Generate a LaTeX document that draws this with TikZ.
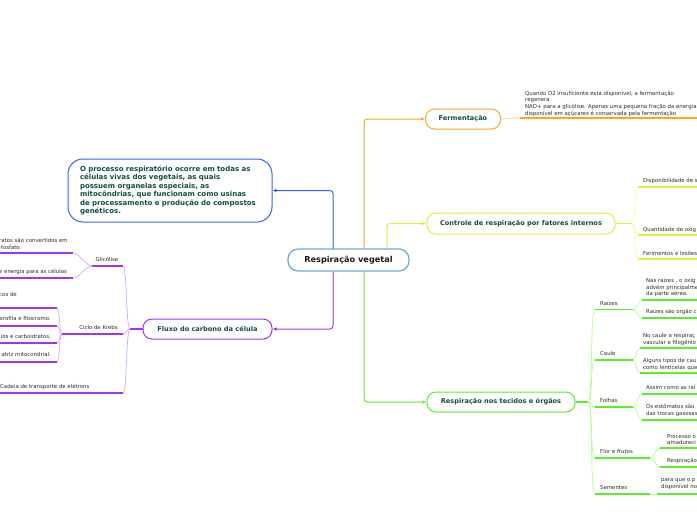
\documentclass[tikz,border=0pt]{standalone}
\usepackage{fontspec}
\setmainfont{DejaVu Sans}
\usetikzlibrary{arrows.meta}
\definecolor{cblue}{HTML}{3366EE}
\definecolor{cpurple}{HTML}{A035F0}
\definecolor{cpurpleL}{HTML}{D8A6FF}
\definecolor{corange}{HTML}{FFA526}
\definecolor{corangeL}{HTML}{FFD9A0}
\definecolor{cyellow}{HTML}{DDF23A}
\definecolor{cyellowL}{HTML}{EEFF99}
\definecolor{cgreen}{HTML}{5CEE2A}
\definecolor{cgreenL}{HTML}{AEFF90}
\definecolor{croot}{HTML}{6AA8DA}
\definecolor{ctxt}{HTML}{134E3C}
\definecolor{csmall}{HTML}{2E2E2E}
\begin{document}
\begin{tikzpicture}[x=1pt,y=-1pt,
  mainbox/.style={draw, line width=1pt, rounded corners=9pt, fill=white, font=\fontsize{6.6}{8}\selectfont\bfseries, text=ctxt, inner sep=0pt},
  smtxt/.style={font=\fontsize{5.4}{6.8}\selectfont, text=csmall, inner sep=0pt, align=left},
  conn/.style={line width=1pt, rounded corners=3pt},
  arrowhd/.style={-{Latex[length=4pt,width=3.5pt]}},
  ulline/.style={line width=1.5pt},
  brline/.style={line width=0.7pt}
]
\useasboundingbox (0,0) rectangle (697,520);
\fill[white] (0,0) rectangle (697,520);

% ---------- main nodes ----------
\node[draw=croot, line width=1.2pt, rounded corners=10pt, fill=white, minimum width=121pt, minimum height=22pt, inner sep=0pt,
      font=\fontsize{8.2}{9}\selectfont\bfseries, text=black!90] (root) at (348.5,260) {Respiração vegetal};

\node[mainbox, draw=cblue, rounded corners=15pt, minimum width=204pt, minimum height=63pt, text width=180pt, inner xsep=12pt,
      align=left, font=\fontsize{7}{8.5}\selectfont\bfseries] (intro) at (170,190.5)
  {O processo respiratório ocorre em todas as\\células vivas dos vegetais, as quais\\possuem organelas especiais, as\\mitocôndrias, que funcionam como usinas\\de processamento e produção de compostos\\genéticos.};

\node[mainbox, draw=cpurple, minimum width=129pt, minimum height=20pt] (flux) at (207.5,329) {Fluxo do carbono da célula};
\node[mainbox, draw=corange, minimum width=75pt, minimum height=20pt] (ferm) at (463,119) {Fermentação};
\node[mainbox, draw=cyellow, minimum width=188pt, minimum height=21pt] (ctrl) at (521,223.5) {Controle de respiração por fatores internos};
\node[mainbox, draw=cgreen, minimum width=148pt, minimum height=20pt] (resp) at (501,402) {Respiração nos tecidos e órgãos};

% ---------- root connectors ----------
\draw[cblue, conn, arrowhd] ([xshift=-15.5pt]root.north) |- (intro.east);
\draw[cpurple, conn, arrowhd] ([xshift=-15.5pt]root.south) |- (flux.east);
\draw[corange, conn, arrowhd] ([xshift=15.5pt]root.north) |- (ferm.west);
\draw[cyellow, conn, arrowhd] ([xshift=38.5pt]root.north) |- (ctrl.west);
\draw[cgreen, conn, arrowhd] ([xshift=15.5pt]root.south) |- (resp.west);

% ---------- Fermentação ----------
\coordinate (fe1) at (520,118);
\coordinate (fe2) at (697,118);
\draw[corangeL, line width=1pt] (ferm.east) -- (fe1);
\draw[corange, ulline] (fe1) -- (fe2);
\node[smtxt, anchor=north west] (fetxt) at (525,90.5)
  {Quando O2 insuficiente está disponível, a fermentação\\regenera\\NAD+ para a glicólise. Apenas uma pequena fração da energia\\disponível em açúcares é conservada pela fermentação};

% ---------- Controle ----------
\coordinate (cb) at (632,223.5);
\draw[cyellow, line width=1.2pt] (ctrl.east) -- (cb);
\coordinate (c1) at (638,187);
\coordinate (c2) at (638,235);
\coordinate (c3) at (638,259);
\coordinate (c1e) at (697,187);
\coordinate (c2e) at (697,235);
\coordinate (c3e) at (697,259);
\foreach \c in {c1,c2,c3}{\draw[cyellowL, brline] (cb) .. controls +(4,0) and +(-4,0) .. (\c);}
\draw[cyellow, ulline] (c1) -- (c1e);
\draw[cyellow, ulline] (c2) -- (c2e);
\draw[cyellow, ulline] (c3) -- (c3e);
\node[smtxt, anchor=base west] (ct1) at (643,182) {Disponibilidade de s};
\node[smtxt, anchor=base west] (ct2) at (643,231) {Quantidade de oxig};
\node[smtxt, anchor=base west] (ct3) at (643,255) {Ferimentos e lesões};

% ---------- Respiração nos tecidos ----------
\coordinate (gb) at (588,402);
\draw[cgreen, line width=1.2pt] (resp.east) -- (gb);
\coordinate (r0) at (595,309.5); \coordinate (r1) at (633,309.5);
\coordinate (k0) at (595,360);   \coordinate (k1) at (633,360);
\coordinate (f0) at (595,407);   \coordinate (f1) at (633,407);
\coordinate (l0) at (595,458);   \coordinate (l1) at (650,458);
\coordinate (s0) at (595,494);   \coordinate (s1) at (650,494);
\foreach \c in {r0,k0,f0,l0,s0}{\draw[cgreenL, brline] (gb) .. controls +(5,0) and +(-5,0) .. (\c);}
\draw[cgreen, ulline] (r0) -- (r1);
\draw[cgreen, ulline] (k0) -- (k1);
\draw[cgreen, ulline] (f0) -- (f1);
\draw[cgreen, ulline] (l0) -- (l1);
\draw[cgreen, ulline] (s0) -- (s1);
\node[smtxt, anchor=base west] (rl) at (600,305) {Raízes};
\node[smtxt, anchor=base west] (kl) at (600,355.5) {Caule};
\node[smtxt, anchor=base west] (fl) at (600,402.5) {Folhas};
\node[smtxt, anchor=base west] (ll) at (600,453.5) {Flor e frutos};
\node[smtxt, anchor=base west] (sl) at (600,489.5) {Sementes};

% Raízes children
\coordinate (ra) at (642,300); \coordinate (rae) at (697,300);
\coordinate (rb) at (642,318); \coordinate (rbe) at (697,318);
\draw[cgreenL, brline] (r1) .. controls +(4,0) and +(-4,0) .. (ra);
\draw[cgreenL, brline] (r1) .. controls +(4,0) and +(-4,0) .. (rb);
\draw[cgreen, ulline] (ra) -- (rae);
\draw[cgreen, ulline] (rb) -- (rbe);
\node[smtxt, anchor=north west] (rat) at (646,278) {Nas raizes , o oxig\\advém principalme\\da parte aérea.};
\node[smtxt, anchor=base west] (rbt) at (646,313.5) {Raízes são orgão c};

% Caule children
\coordinate (ka) at (640,348); \coordinate (kae) at (697,348);
\coordinate (kb) at (640,373); \coordinate (kbe) at (697,373);
\draw[cgreenL, brline] (k1) .. controls +(3,0) and +(-3,0) .. (ka);
\draw[cgreenL, brline] (k1) .. controls +(3,0) and +(-3,0) .. (kb);
\draw[cgreen, ulline] (ka) -- (kae);
\draw[cgreen, ulline] (kb) -- (kbe);
\node[smtxt, anchor=north west] (kat) at (643,333) {No caule a respiraç\\vascular e filogênio};
\node[smtxt, anchor=north west] (kbt) at (643,358) {Alguns tipos de cau\\como lenticelas que};

% Folhas children
\coordinate (fa) at (642,394); \coordinate (fae) at (697,394);
\coordinate (fb) at (642,420); \coordinate (fbe) at (697,420);
\draw[cgreenL, brline] (f1) .. controls +(4,0) and +(-4,0) .. (fa);
\draw[cgreenL, brline] (f1) .. controls +(4,0) and +(-4,0) .. (fb);
\draw[cgreen, ulline] (fa) -- (fae);
\draw[cgreen, ulline] (fb) -- (fbe);
\node[smtxt, anchor=base west] (fat) at (646,389.5) {Assim como as raí};
\node[smtxt, anchor=north west] (fbt) at (646,404) {Os estômatos são\\das trocas gasosas};

% Flor e frutos children
\coordinate (la) at (660,448); \coordinate (lae) at (697,448);
\coordinate (lb) at (660,467); \coordinate (lbe) at (697,467);
\draw[cgreenL, brline] (l1) .. controls +(4,0) and +(-4,0) .. (la);
\draw[cgreenL, brline] (l1) .. controls +(4,0) and +(-4,0) .. (lb);
\draw[cgreen, ulline] (la) -- (lae);
\draw[cgreen, ulline] (lb) -- (lbe);
\node[smtxt, anchor=north west] (lat) at (667,434) {Processo o\\amadureci};
\node[smtxt, anchor=base west] (lbt) at (667,462.5) {Respiração};

% Sementes child
\coordinate (sa) at (657,494); \coordinate (sae) at (697,494);
\draw[cgreenL, brline] (s1) -- (sa);
\draw[cgreen, ulline] (sa) -- (sae);
\node[smtxt, anchor=north west] (sat) at (661,478) {para que o p\\disponível no};

% ---------- Fluxo do carbono ----------
\coordinate (pb) at (130,329);
\draw[cpurple, line width=1.2pt] (flux.west) -- (pb);
\coordinate (g1) at (123,266); \coordinate (g0) at (92,266);
\coordinate (q1) at (123,334); \coordinate (q0) at (62,334);
\coordinate (d1) at (123,393); \coordinate (d0) at (0,393);
\foreach \c in {g1,q1,d1}{\draw[cpurpleL, brline] (pb) .. controls +(-4,0) and +(4,0) .. (\c);}
\draw[cpurple, ulline] (g1) -- (g0);
\draw[cpurple, ulline] (q1) -- (q0);
\draw[cpurple, ulline] (d1) -- (d0);
\node[smtxt, anchor=base] (gl) at (107,261.5) {Glicólise};
\node[smtxt, anchor=base] (ql) at (98.5,329.5) {Ciclo de Krebs};
\node[smtxt, anchor=base west] (dl) at (0,388.5) {Cadeia de transporte de elétrons};

% Glicólise children
\coordinate (ga) at (73,253); \coordinate (gae) at (0,253);
\coordinate (gc) at (73,278); \coordinate (gce) at (0,278);
\draw[cpurpleL, brline] (g0) .. controls +(-6,0) and +(6,0) .. (ga);
\draw[cpurpleL, brline] (g0) .. controls +(-6,0) and +(6,0) .. (gc);
\draw[cpurple, ulline] (ga) -- (gae);
\draw[cpurple, ulline] (gc) -- (gce);
\node[smtxt, anchor=north west] (gat) at (-1,238) {ratos são convertidos em\\-fosfato.};
\node[smtxt, anchor=base west] (gct) at (-1,273.5) {e energia para as células};

% Ciclo de Krebs children
\coordinate (qa) at (57,308); \coordinate (qae) at (0,308);
\coordinate (qb) at (57,326); \coordinate (qbe) at (0,326);
\coordinate (qc) at (57,343); \coordinate (qce) at (0,343);
\coordinate (qd) at (57,362); \coordinate (qde) at (0,362);
\foreach \c in {qa,qb,qc,qd}{\draw[cpurpleL, brline] (q0) .. controls +(-3,0) and +(3,0) .. (\c);}
\draw[cpurple, ulline] (qa) -- (qae);
\draw[cpurple, ulline] (qb) -- (qbe);
\draw[cpurple, ulline] (qc) -- (qce);
\draw[cpurple, ulline] (qd) -- (qde);
\node[smtxt, anchor=base east] (qat) at (17,296.5) {cos de};
\node[smtxt, anchor=base east] (qbt) at (51,320.5) {orofila e fitocromo.};
\node[smtxt, anchor=base east] (qct) at (51,338.5) {ios e carboidratos.};
\node[smtxt, anchor=base east] (qdt) at (51,356.5) {atriz mitocondrial.};
\end{tikzpicture}
\end{document}
